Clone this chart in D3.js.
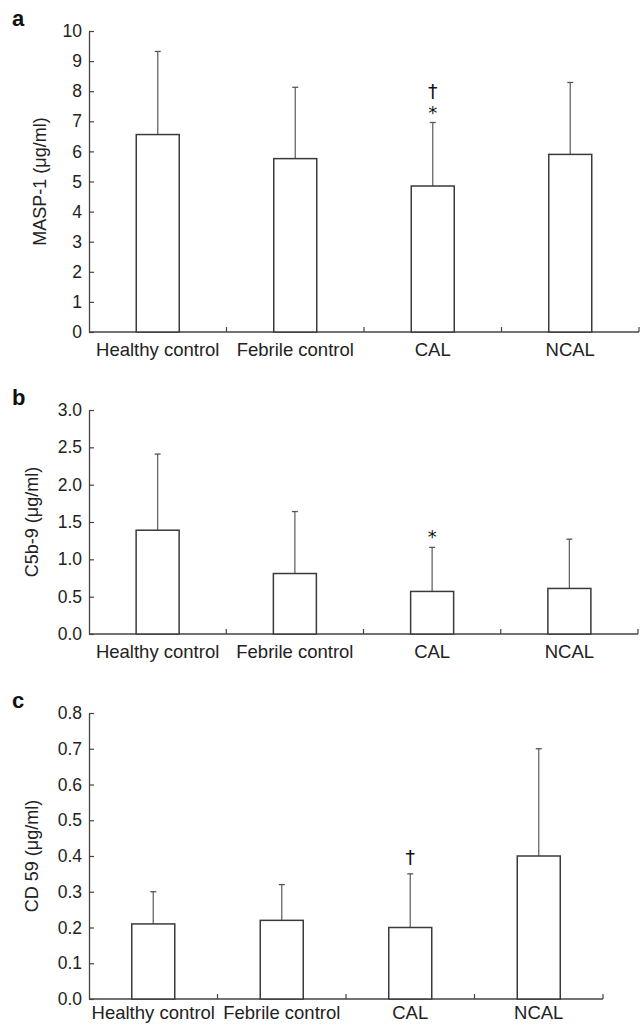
<!DOCTYPE html>
<html>
<head>
<meta charset="utf-8">
<title>MASP-1, C5b-9 and CD59</title>
<script src="https://d3js.org/d3.v7.min.js"></script>
<style>
  body { margin: 0; background: #fff; }
  svg { display: block; font-family: "Liberation Sans", Arial, Helvetica, sans-serif; }
</style>
</head>
<body>
<script>
// groups along the x axis
var groups = ["Healthy control", "Febrile control", "CAL", "NCAL"];

// a: MASP-1 (mean, SD)
var maspMean = [6.56, 5.76, 4.85, 5.90];
var maspSd = [2.76, 2.37, 2.11, 2.39];
var maspTicks = [0, 1, 2, 3, 4, 5, 6, 7, 8, 9, 10];
var maspMarks = [[], [], ["*", "†"], []];

// b: C5b-9
var c5bMean = [1.39, 0.81, 0.57, 0.61];
var c5bSd = [1.02, 0.83, 0.59, 0.66];
var c5bTicks = [0, 0.5, 1.0, 1.5, 2.0, 2.5, 3.0];
var c5bMarks = [[], [], ["*"], []];

// c: CD 59
var cd59Mean = [0.21, 0.22, 0.20, 0.40];
var cd59Sd = [0.09, 0.10, 0.15, 0.30];
var cd59Ticks = [0, 0.1, 0.2, 0.3, 0.4, 0.5, 0.6, 0.7, 0.8];
var cd59Marks = [[], [], ["†"], []];

var w = 640, h = 1025;
var left = 89, barW = 43;

var panels = [
    { letter: "a", title: "MASP-1 (μg/ml)", mean: maspMean, sd: maspSd, ticks: maspTicks,
      fmt: d3.format("d"), marks: maspMarks, top: 31, bottom: 332, right: 639, titleX: 46, catY: 24 },
    { letter: "b", title: "C5b-9 (μg/ml)", mean: c5bMean, sd: c5bSd, ticks: c5bTicks,
      fmt: d3.format(".1f"), marks: c5bMarks, top: 410, bottom: 634, right: 638, titleX: 38, catY: 24 },
    { letter: "c", title: "CD 59 (μg/ml)", mean: cd59Mean, sd: cd59Sd, ticks: cd59Ticks,
      fmt: d3.format(".1f"), marks: cd59Marks, top: 713, bottom: 999, right: 603, titleX: 38, catY: 20 }
];

var svg = d3.select("body").append("svg")
    .attr("width", w)
    .attr("height", h);

panels.forEach(drawPanel);

function drawPanel(p) {
    var g = svg.append("g");
    var x = d3.scaleBand().domain(groups).range([left, p.right]);
    var y = d3.scaleLinear().domain([0, d3.max(p.ticks)]).range([p.bottom, p.top]);
    var rows = groups.map(function(name, i) {
        return { name: name, mean: p.mean[i], sd: p.sd[i], marks: p.marks[i] };
    });
    var cx = function(d) { return x(d.name) + x.bandwidth() / 2; };

    // panel letter
    g.append("text")
        .attr("x", 12)
        .attr("y", p.top - 5)
        .attr("font-size", 22)
        .attr("font-weight", "bold")
        .attr("fill", "#111")
        .text(p.letter);

    // y axis, ticks pointing inward
    var yAxis = d3.axisLeft(y)
        .tickValues(p.ticks)
        .tickFormat(p.fmt)
        .tickSize(-5)
        .tickSizeOuter(0)
        .tickPadding(7);
    var ya = g.append("g")
        .attr("transform", "translate(" + left + ",0)")
        .call(yAxis);
    ya.select(".domain").attr("stroke", "#444").attr("stroke-width", 1.3);
    ya.selectAll(".tick line").attr("stroke", "#444").attr("stroke-width", 1.2);
    ya.selectAll(".tick text")
        .attr("font-size", 17.5)
        .attr("font-family", "Liberation Sans, Arial, sans-serif")
        .attr("fill", "#222");

    // y title
    g.append("text")
        .attr("transform", "translate(" + p.titleX + "," + ((p.top + p.bottom) / 2) + ") rotate(-90)")
        .attr("text-anchor", "middle")
        .attr("font-size", 18)
        .attr("fill", "#222")
        .text(p.title);

    // x axis line and group separators
    g.append("line")
        .attr("x1", left).attr("x2", p.right)
        .attr("y1", y(0)).attr("y2", y(0))
        .attr("stroke", "#444").attr("stroke-width", 1.3);
    g.selectAll("line.sep").data(groups).enter().append("line")
        .attr("class", "sep")
        .attr("x1", function(d) { return x(d) + x.step(); })
        .attr("x2", function(d) { return x(d) + x.step(); })
        .attr("y1", y(0)).attr("y2", y(0) - 5)
        .attr("stroke", "#444").attr("stroke-width", 1.2);
    g.selectAll("text.cat").data(groups).enter().append("text")
        .attr("class", "cat")
        .attr("x", function(d) { return x(d) + x.bandwidth() / 2; })
        .attr("y", y(0) + p.catY)
        .attr("text-anchor", "middle")
        .attr("font-size", 18.5)
        .attr("fill", "#222")
        .text(function(d) { return d; });

    // error bars (mean + SD)
    g.selectAll("line.err").data(rows).enter().append("line")
        .attr("class", "err")
        .attr("x1", cx).attr("x2", cx)
        .attr("y1", function(d) { return y(d.mean); })
        .attr("y2", function(d) { return y(d.mean + d.sd); })
        .attr("stroke", "#666").attr("stroke-width", 1.3);
    g.selectAll("line.cap").data(rows).enter().append("line")
        .attr("class", "cap")
        .attr("x1", function(d) { return cx(d) - 3; })
        .attr("x2", function(d) { return cx(d) + 3; })
        .attr("y1", function(d) { return y(d.mean + d.sd); })
        .attr("y2", function(d) { return y(d.mean + d.sd); })
        .attr("stroke", "#555").attr("stroke-width", 1.3);

    // bars
    g.selectAll("rect.bar").data(rows).enter().append("rect")
        .attr("class", "bar")
        .attr("x", function(d) { return cx(d) - barW / 2; })
        .attr("y", function(d) { return y(d.mean); })
        .attr("width", barW)
        .attr("height", function(d) { return y(0) - y(d.mean); })
        .attr("fill", "#fff")
        .attr("stroke", "#3a3a3a")
        .attr("stroke-width", 1.5);

    // significance marks stacked above the error bar
    rows.forEach(function(d) {
        var base = y(d.mean + d.sd);
        d.marks.forEach(function(m, k) {
            base -= (k === 0) ? (m === "*" ? 4 : 10) : 21;
            g.append("text")
                .attr("x", cx(d))
                .attr("y", base)
                .attr("text-anchor", "middle")
                .attr("font-family", "DejaVu Sans, sans-serif")
                .attr("font-size", m === "*" ? 18 : 19)
                .attr("fill", "#111")
                .text(m);
        });
    });
}
</script>
</body>
</html>
